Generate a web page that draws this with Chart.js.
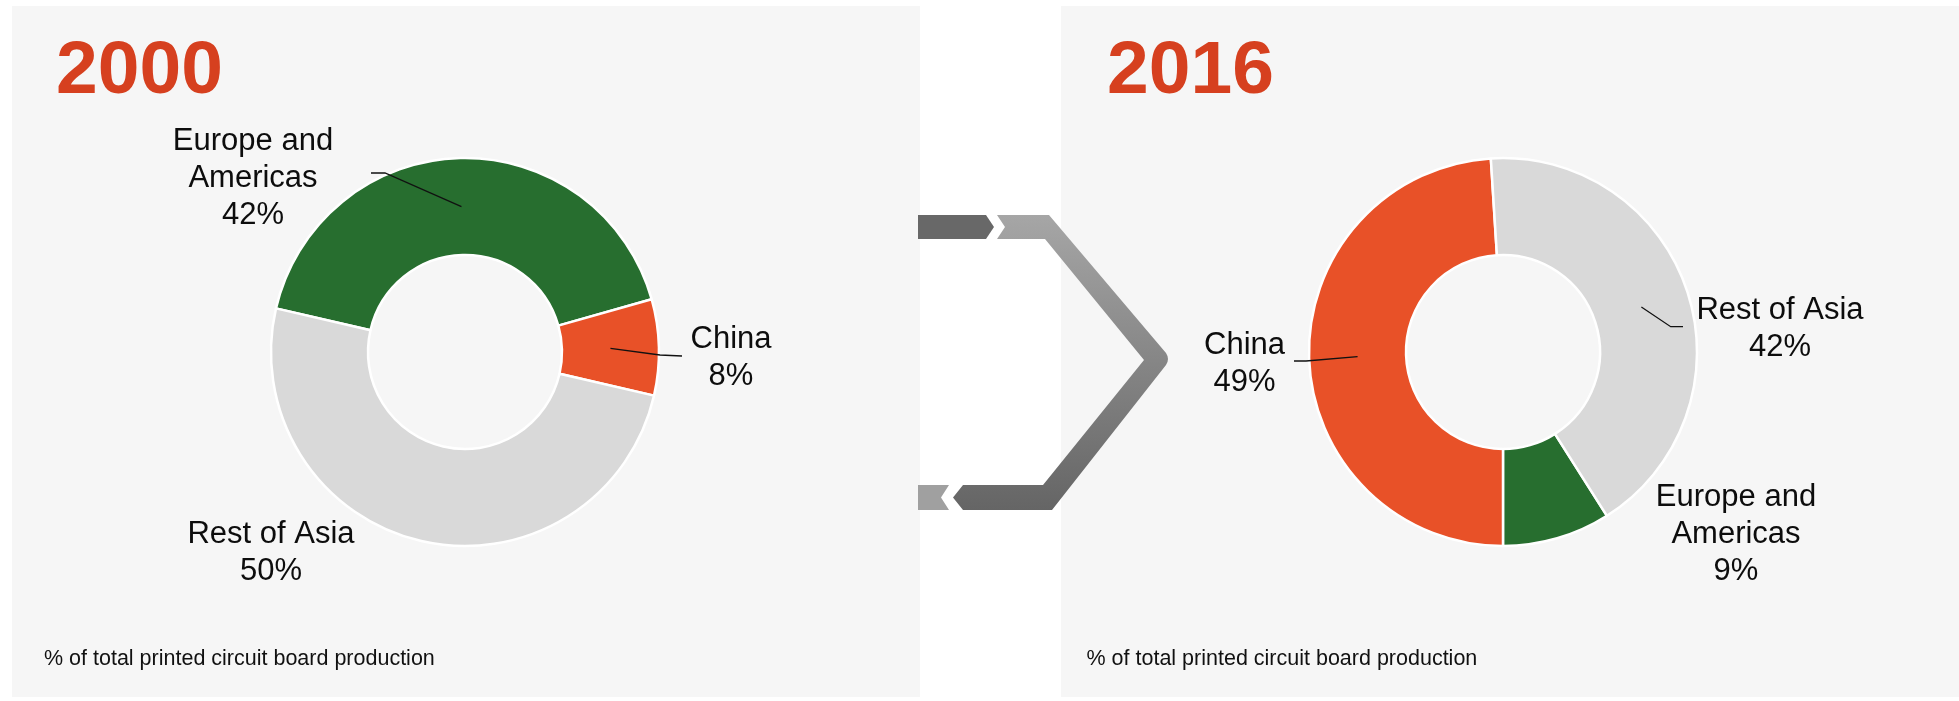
<!DOCTYPE html>
<html>
<head>
<meta charset="utf-8">
<script src="https://cdn.jsdelivr.net/npm/chart.js@4.4.1/dist/chart.umd.min.js"></script>
<style>
html,body{margin:0;padding:0;background:#ffffff;width:1959px;height:701px;overflow:hidden;}
.panel{position:absolute;background:#f6f6f6;}
#p1{left:12px;top:6px;width:908px;height:691px;}
#p2{left:1061px;top:6px;width:898px;height:691px;}
.panel canvas{position:absolute;left:0;top:0;}
#chev{position:absolute;left:0;top:0;}
</style>
</head>
<body>
<div class="panel" id="p1"><canvas id="c1" width="908" height="691"></canvas></div>
<div class="panel" id="p2"><canvas id="c2" width="898" height="691"></canvas></div>
<svg id="chev" width="1959" height="701" viewBox="0 0 1959 701">
  <defs>
    <linearGradient id="g1" x1="0" y1="215" x2="0" y2="510" gradientUnits="userSpaceOnUse">
      <stop offset="0" stop-color="#a6a6a6"/>
      <stop offset="1" stop-color="#656565"/>
    </linearGradient>
  </defs>
  <polygon points="918,215 986,215 994,227 986,239 918,239" fill="#686868"/>
  <path d="M997 215 L1049 215 L1166 353 Q1170 359 1166 365 L1052 510 L963 510 L953 497.5 L963 485 L1043 485 L1144 360 L1045 239 L997 239 L1005 227 Z" fill="url(#g1)"/>
  <polygon points="918,485 949,485 941,497.5 949,510 918,510" fill="#a0a0a0"/>
</svg>
<script>
// ---- data ----
const categories = ["Europe and Americas", "China", "Rest of Asia"];
const years = ["2000", "2016"];
const share2000 = [42, 8, 50];
const share2016 = [9, 49, 42];
const sliceColors = ["#276e2f", "#e85128", "#d9d9d9"];
const footnote = "% of total printed circuit board production";

const FONT = '"Liberation Sans", Arial, Helvetica, sans-serif';

function wrapText(ctx, text, maxW) {
  const words = text.split(' ');
  const lines = [];
  let cur = '';
  words.forEach(w => {
    const t = cur ? cur + ' ' + w : w;
    if (cur && ctx.measureText(t).width > maxW) { lines.push(cur); cur = w; }
    else cur = t;
  });
  if (cur) lines.push(cur);
  return lines;
}

function makeAnnotate(cfg) {
  return {
    id: 'annotate',
    afterDraw(chart) {
      const ctx = chart.ctx;
      const meta = chart.getDatasetMeta(0);
      ctx.save();
      ctx.textBaseline = 'alphabetic';
      // year title
      ctx.fillStyle = '#d6401f';
      ctx.font = 'bold 75px ' + FONT;
      ctx.textAlign = 'left';
      ctx.fillText(cfg.year, cfg.titleX, cfg.titleY);
      // footnote
      ctx.fillStyle = '#111111';
      ctx.font = '21.5px ' + FONT;
      ctx.fillText(cfg.note, cfg.noteX, cfg.noteY);
      // slice labels
      ctx.font = '31px ' + FONT;
      ctx.textAlign = 'center';
      const vals = chart.data.datasets[0].data;
      chart.data.labels.forEach((name, i) => {
        const arc = meta.data[i];
        const cx = arc.x, cy = arc.y;
        const L = cfg.layout[i];
        const lines = wrapText(ctx, name, 172).concat([vals[i] + '%']);
        ctx.fillStyle = '#0d0d0d';
        lines.forEach((t, k) => ctx.fillText(t, cx + L.dx, cy + L.dy + k * 37));
        if (L.leader) {
          const p = arc.getCenterPoint();
          ctx.beginPath();
          ctx.moveTo(p.x, p.y);
          L.leader.forEach(pt => ctx.lineTo(cx + pt[0], cy + pt[1]));
          ctx.strokeStyle = '#111111';
          ctx.lineWidth = 1.3;
          ctx.stroke();
        }
      });
      ctx.restore();
    }
  };
}

function donut(canvasId, values, rotation, padding, annot) {
  return new Chart(document.getElementById(canvasId), {
    type: 'doughnut',
    data: {
      labels: categories,
      datasets: [{
        data: values,
        backgroundColor: sliceColors,
        borderColor: '#ffffff',
        borderWidth: 2.5
      }]
    },
    options: {
      responsive: false,
      devicePixelRatio: 1,
      animation: false,
      events: [],
      rotation: rotation,
      radius: 194,
      cutout: '50%',
      layout: { padding: padding },
      plugins: { legend: { display: false }, tooltip: { enabled: false } }
    },
    plugins: [makeAnnotate(annot)]
  });
}

donut('c1', share2000, -77, {left: 0, right: 2, top: 1, bottom: 0}, {
  year: years[0], titleX: 44, titleY: 87, note: footnote, noteX: 32, noteY: 659,
  layout: [
    {dx: -212, dy: -202, leader: [[-80, -179], [-94, -179]]},
    {dx: 266, dy: -3.7, leader: [[195, 3], [217, 4]]},
    {dx: -194, dy: 191.3}
  ]
});

donut('c2', share2016, 147.6, {left: 0, right: 14, top: 1, bottom: 0}, {
  year: years[1], titleX: 46, titleY: 87, note: footnote, noteX: 25.5, noteY: 659,
  layout: [
    {dx: 233, dy: 154},
    {dx: -258.5, dy: 2, leader: [[-197, 9], [-209, 9]]},
    {dx: 277, dy: -32.7, leader: [[167.7, -25.3], [180, -25.3]]}
  ]
});
</script>
</body>
</html>
